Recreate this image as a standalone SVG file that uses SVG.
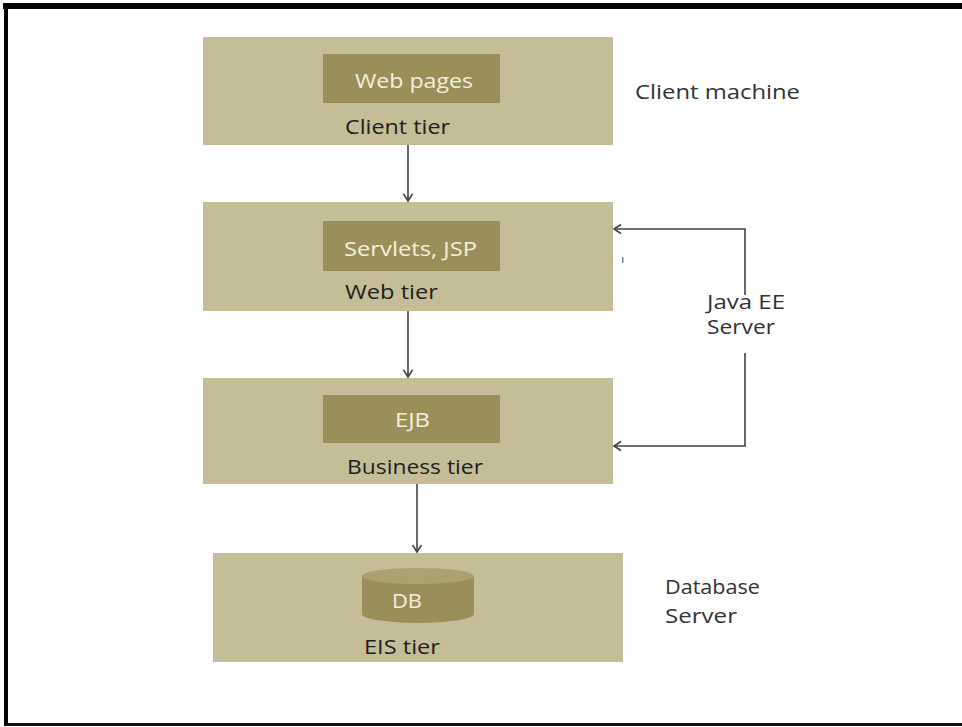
<svg xmlns="http://www.w3.org/2000/svg" width="962" height="727" viewBox="0 0 962 727">
<defs>
<style>
.outer{fill:#c5bd98}
.inner{fill:#9a8f5a}
.lbl{font-family:"Open Sans","Liberation Sans",sans-serif;font-size:20px;fill:#1e1e1e}
.in{font-family:"Open Sans","Liberation Sans",sans-serif;font-size:20px;fill:#f4efdc}
.side{font-family:"Open Sans","Liberation Sans",sans-serif;font-size:20px;fill:#333}
.con{fill:none;stroke:#444;stroke-width:1.6}
</style>
<marker id="arr" markerWidth="12" markerHeight="12" refX="10" refY="6" orient="auto" markerUnits="userSpaceOnUse">
<path d="M3,1.5 L10,6 L3,10.5" fill="none" stroke="#444" stroke-width="1.6"/>
</marker>
</defs>
<rect width="962" height="727" fill="#fff"/>
<g id="frame">
<rect x="3" y="3" width="959" height="6" fill="#000"/>
<rect x="4" y="3" width="4" height="723" fill="#000"/>
<rect x="4" y="723" width="958" height="3" fill="#111"/>
</g>
<g id="client-tier">
<rect class="outer" x="203" y="37" width="410" height="108"/>
<rect class="inner" x="323" y="54" width="177" height="49"/>
<text class="in" x="355" y="88" textLength="118" lengthAdjust="spacingAndGlyphs">Web pages</text>
<text class="lbl" x="345" y="134" textLength="105" lengthAdjust="spacingAndGlyphs">Client tier</text>
</g>
<g id="web-tier">
<rect class="outer" x="203" y="202" width="410" height="109"/>
<rect class="inner" x="323" y="221" width="177" height="50"/>
<text class="in" x="344" y="256" textLength="133" lengthAdjust="spacingAndGlyphs">Servlets, JSP</text>
<text class="lbl" x="345" y="299" textLength="93" lengthAdjust="spacingAndGlyphs">Web tier</text>
</g>
<g id="business-tier">
<rect class="outer" x="203" y="378" width="410" height="106"/>
<rect class="inner" x="323" y="395" width="177" height="48"/>
<text class="in" x="395" y="427" textLength="35" lengthAdjust="spacingAndGlyphs">EJB</text>
<text class="lbl" x="347" y="474" textLength="136" lengthAdjust="spacingAndGlyphs">Business tier</text>
</g>
<g id="eis-tier">
<rect class="outer" x="213" y="553" width="410" height="109"/>
<path class="inner" d="M362,576 L362,614 A56,9 0 0 0 474,614 L474,576 Z"/>
<ellipse cx="418" cy="576" rx="56" ry="8" fill="#aca270"/>
<text class="in" x="392" y="608" textLength="30" lengthAdjust="spacingAndGlyphs">DB</text>
<text class="lbl" x="364" y="654" textLength="76" lengthAdjust="spacingAndGlyphs">EIS tier</text>
</g>
<g id="client-machine">
<text class="side" x="635" y="99" textLength="165" lengthAdjust="spacingAndGlyphs">Client machine</text>
</g>
<g id="java-ee-server">
<text class="side" x="707" y="309" textLength="78" lengthAdjust="spacingAndGlyphs">Java EE</text>
<text class="side" x="707" y="334" textLength="68" lengthAdjust="spacingAndGlyphs">Server</text>
</g>
<g id="database-server">
<text class="side" x="665" y="594" textLength="95" lengthAdjust="spacingAndGlyphs">Database</text>
<text class="side" x="665" y="623" textLength="72" lengthAdjust="spacingAndGlyphs">Server</text>
</g>
<rect x="622" y="257" width="1.5" height="6" fill="#6a8fb8"/>
<g id="connectors">
<line class="con" x1="408" y1="145" x2="408" y2="201" marker-end="url(#arr)"/>
<line class="con" x1="408" y1="311" x2="408" y2="377" marker-end="url(#arr)"/>
<line class="con" x1="417" y1="484" x2="417" y2="552" marker-end="url(#arr)"/>
<polyline class="con" points="745,295 745,229 614,229" marker-end="url(#arr)"/>
<polyline class="con" points="745,353 745,446 614,446" marker-end="url(#arr)"/>
</g>
</svg>
